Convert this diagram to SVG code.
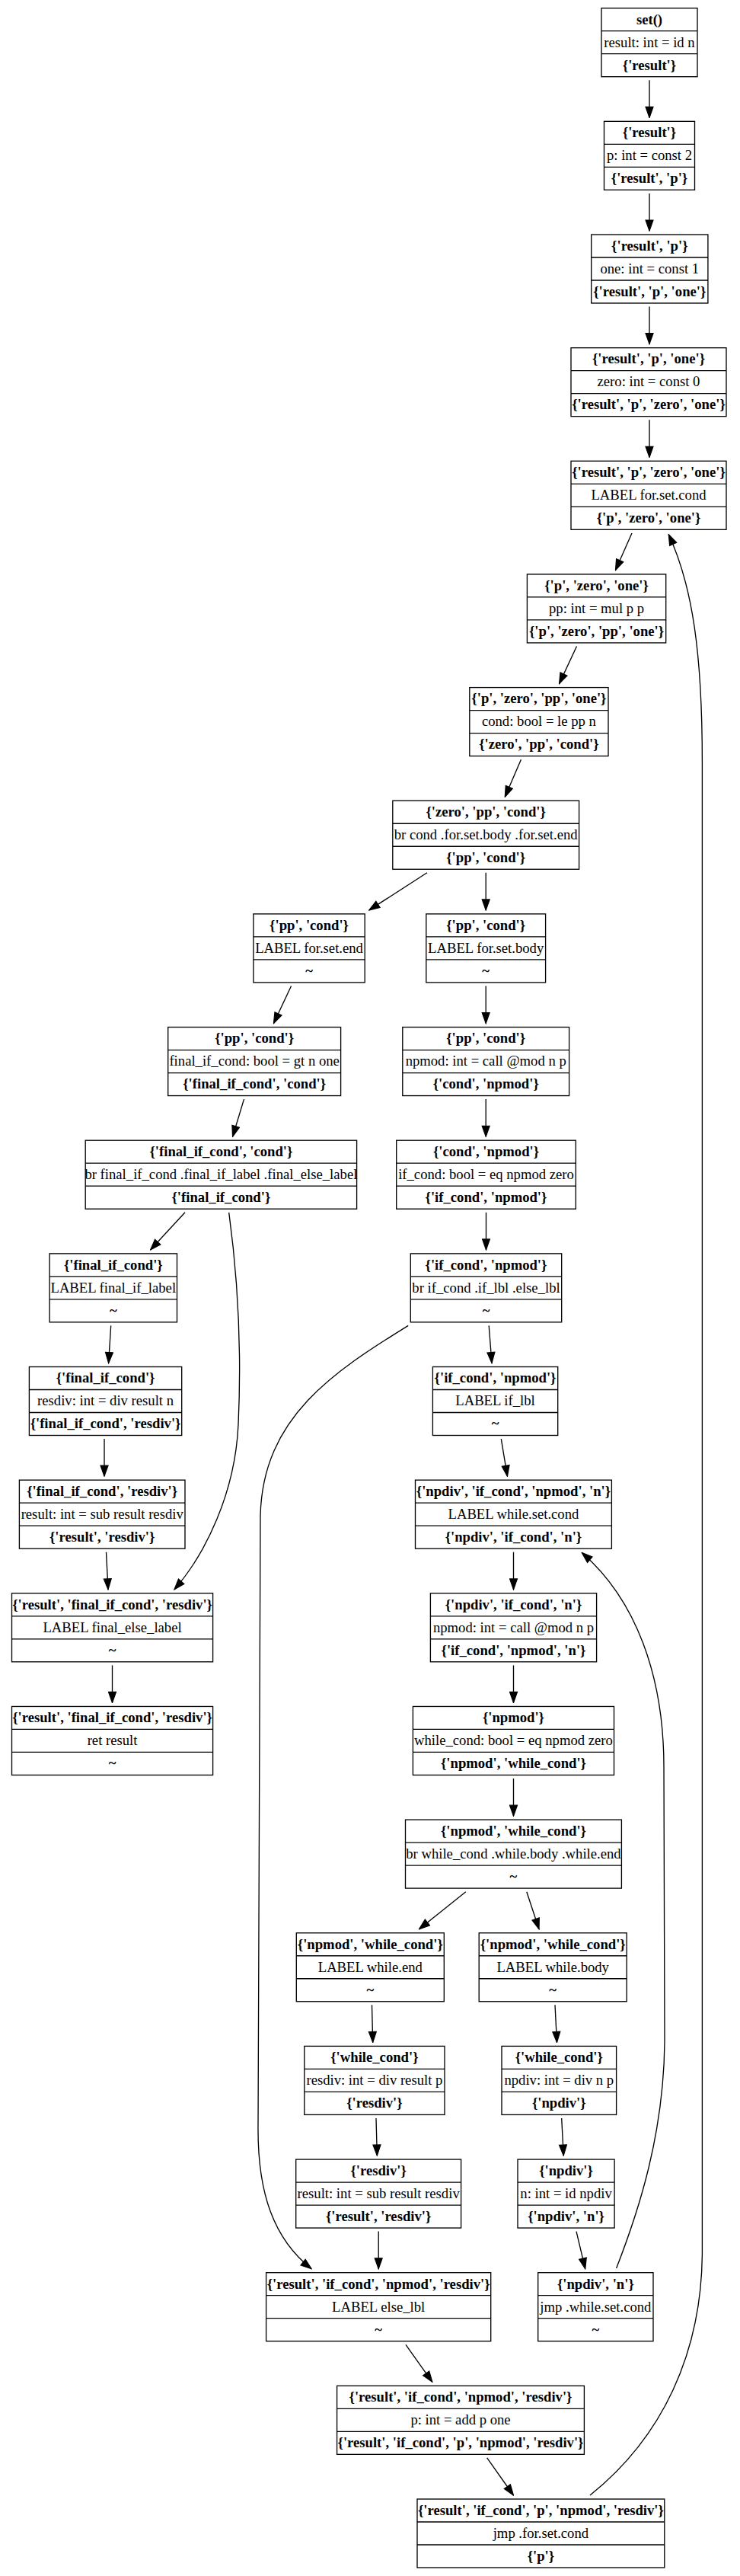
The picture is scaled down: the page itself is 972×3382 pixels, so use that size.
<svg xmlns="http://www.w3.org/2000/svg" width="972" height="3382" viewBox="0 0 972 3382">
<defs>
<marker id="ah" markerUnits="userSpaceOnUse" markerWidth="16" markerHeight="12" viewBox="-1 -1 15.3 11.4" refX="13.3" refY="4.7" orient="auto">
<path d="M0,0 L13.3,4.7 L0,9.4 Z" fill="#000" stroke="#000" stroke-width="1.2"/>
</marker>
</defs>
<style>
.box{fill:#fff;stroke:#000;stroke-width:1.33}
.sep{stroke:#000;stroke-width:1.33}
text{font-family:"Liberation Serif","Times New Roman",serif;font-size:18.67px;text-anchor:middle;fill:#000}
.b{font-weight:bold}
.e{fill:none;stroke:#000;stroke-width:1.33;marker-end:url(#ah)}
</style>
<rect x="0" y="0" width="972" height="3382" fill="#fff"/>
<g id="nodes">
<g id="n1"><rect class="box" x="790" y="10.7" width="126" height="90"/><line class="sep" x1="790" y1="40.7" x2="916" y2="40.7"/><line class="sep" x1="790" y1="70.7" x2="916" y2="70.7"/><text class="b" x="853" y="31.5">set()</text><text x="853" y="61.5">result: int = id n</text><text class="b" x="853" y="91.5">{'result'}</text></g>
<g id="n2"><rect class="box" x="793.5" y="159.35" width="119" height="90"/><line class="sep" x1="793.5" y1="189.35" x2="912.5" y2="189.35"/><line class="sep" x1="793.5" y1="219.35" x2="912.5" y2="219.35"/><text class="b" x="853" y="180.15">{'result'}</text><text x="853" y="210.15">p: int = const 2</text><text class="b" x="853" y="240.15">{'result', 'p'}</text></g>
<g id="n3"><rect class="box" x="776.7" y="308" width="153.2" height="90"/><line class="sep" x1="776.7" y1="338" x2="929.9" y2="338"/><line class="sep" x1="776.7" y1="368" x2="929.9" y2="368"/><text class="b" x="853.3" y="328.8">{'result', 'p'}</text><text x="853.3" y="358.8">one: int = const 1</text><text class="b" x="853.3" y="388.8">{'result', 'p', 'one'}</text></g>
<g id="n4"><rect class="box" x="750" y="456.65" width="204" height="90"/><line class="sep" x1="750" y1="486.65" x2="954" y2="486.65"/><line class="sep" x1="750" y1="516.65" x2="954" y2="516.65"/><text class="b" x="852" y="477.45">{'result', 'p', 'one'}</text><text x="852" y="507.45">zero: int = const 0</text><text class="b" x="852" y="537.45">{'result', 'p', 'zero', 'one'}</text></g>
<g id="n5"><rect class="box" x="750" y="605.3" width="204" height="90"/><line class="sep" x1="750" y1="635.3" x2="954" y2="635.3"/><line class="sep" x1="750" y1="665.3" x2="954" y2="665.3"/><text class="b" x="852" y="626.1">{'result', 'p', 'zero', 'one'}</text><text x="852" y="656.1">LABEL for.set.cond</text><text class="b" x="852" y="686.1">{'p', 'zero', 'one'}</text></g>
<g id="n6"><rect class="box" x="692.4" y="753.95" width="182.3" height="90"/><line class="sep" x1="692.4" y1="783.95" x2="874.7" y2="783.95"/><line class="sep" x1="692.4" y1="813.95" x2="874.7" y2="813.95"/><text class="b" x="783.55" y="774.75">{'p', 'zero', 'one'}</text><text x="783.55" y="804.75">pp: int = mul p p</text><text class="b" x="783.55" y="834.75">{'p', 'zero', 'pp', 'one'}</text></g>
<g id="n7"><rect class="box" x="616.8" y="902.6" width="182.2" height="90"/><line class="sep" x1="616.8" y1="932.6" x2="799" y2="932.6"/><line class="sep" x1="616.8" y1="962.6" x2="799" y2="962.6"/><text class="b" x="707.9" y="923.4">{'p', 'zero', 'pp', 'one'}</text><text x="707.9" y="953.4">cond: bool = le pp n</text><text class="b" x="707.9" y="983.4">{'zero', 'pp', 'cond'}</text></g>
<g id="n8"><rect class="box" x="515.8" y="1051.25" width="244.8" height="90"/><line class="sep" x1="515.8" y1="1081.25" x2="760.6" y2="1081.25"/><line class="sep" x1="515.8" y1="1111.25" x2="760.6" y2="1111.25"/><text class="b" x="638.2" y="1072.05">{'zero', 'pp', 'cond'}</text><text x="638.2" y="1102.05">br cond .for.set.body .for.set.end</text><text class="b" x="638.2" y="1132.05">{'pp', 'cond'}</text></g>
<g id="n9"><rect class="box" x="332.9" y="1199.9" width="146.3" height="90"/><line class="sep" x1="332.9" y1="1229.9" x2="479.2" y2="1229.9"/><line class="sep" x1="332.9" y1="1259.9" x2="479.2" y2="1259.9"/><text class="b" x="406.05" y="1220.7">{'pp', 'cond'}</text><text x="406.05" y="1250.7">LABEL for.set.end</text><text class="b" x="406.05" y="1280.7">~</text></g>
<g id="n10"><rect class="box" x="559.8" y="1199.9" width="156.8" height="90"/><line class="sep" x1="559.8" y1="1229.9" x2="716.6" y2="1229.9"/><line class="sep" x1="559.8" y1="1259.9" x2="716.6" y2="1259.9"/><text class="b" x="638.2" y="1220.7">{'pp', 'cond'}</text><text x="638.2" y="1250.7">LABEL for.set.body</text><text class="b" x="638.2" y="1280.7">~</text></g>
<g id="n11"><rect class="box" x="220.7" y="1348.55" width="226.9" height="90"/><line class="sep" x1="220.7" y1="1378.55" x2="447.6" y2="1378.55"/><line class="sep" x1="220.7" y1="1408.55" x2="447.6" y2="1408.55"/><text class="b" x="334.15" y="1369.35">{'pp', 'cond'}</text><text x="334.15" y="1399.35">final_if_cond: bool = gt n one</text><text class="b" x="334.15" y="1429.35">{'final_if_cond', 'cond'}</text></g>
<g id="n12"><rect class="box" x="528.8" y="1348.55" width="218.8" height="90"/><line class="sep" x1="528.8" y1="1378.55" x2="747.6" y2="1378.55"/><line class="sep" x1="528.8" y1="1408.55" x2="747.6" y2="1408.55"/><text class="b" x="638.2" y="1369.35">{'pp', 'cond'}</text><text x="638.2" y="1399.35">npmod: int = call @mod n p</text><text class="b" x="638.2" y="1429.35">{'cond', 'npmod'}</text></g>
<g id="n13"><rect class="box" x="112.2" y="1497.2" width="356.4" height="90"/><line class="sep" x1="112.2" y1="1527.2" x2="468.6" y2="1527.2"/><line class="sep" x1="112.2" y1="1557.2" x2="468.6" y2="1557.2"/><text class="b" x="290.4" y="1518">{'final_if_cond', 'cond'}</text><text x="290.4" y="1548">br final_if_cond .final_if_label .final_else_label</text><text class="b" x="290.4" y="1578">{'final_if_cond'}</text></g>
<g id="n14"><rect class="box" x="520.7" y="1497.2" width="235.6" height="90"/><line class="sep" x1="520.7" y1="1527.2" x2="756.3" y2="1527.2"/><line class="sep" x1="520.7" y1="1557.2" x2="756.3" y2="1557.2"/><text class="b" x="638.5" y="1518">{'cond', 'npmod'}</text><text x="638.5" y="1548">if_cond: bool = eq npmod zero</text><text class="b" x="638.5" y="1578">{'if_cond', 'npmod'}</text></g>
<g id="n15"><rect class="box" x="65.1" y="1645.85" width="167.4" height="90"/><line class="sep" x1="65.1" y1="1675.85" x2="232.5" y2="1675.85"/><line class="sep" x1="65.1" y1="1705.85" x2="232.5" y2="1705.85"/><text class="b" x="148.8" y="1666.65">{'final_if_cond'}</text><text x="148.8" y="1696.65">LABEL final_if_label</text><text class="b" x="148.8" y="1726.65">~</text></g>
<g id="n16"><rect class="box" x="539.3" y="1645.85" width="198.4" height="90"/><line class="sep" x1="539.3" y1="1675.85" x2="737.7" y2="1675.85"/><line class="sep" x1="539.3" y1="1705.85" x2="737.7" y2="1705.85"/><text class="b" x="638.5" y="1666.65">{'if_cond', 'npmod'}</text><text x="638.5" y="1696.65">br if_cond .if_lbl .else_lbl</text><text class="b" x="638.5" y="1726.65">~</text></g>
<g id="n17"><rect class="box" x="38.4" y="1794.5" width="200.3" height="90"/><line class="sep" x1="38.4" y1="1824.5" x2="238.7" y2="1824.5"/><line class="sep" x1="38.4" y1="1854.5" x2="238.7" y2="1854.5"/><text class="b" x="138.55" y="1815.3">{'final_if_cond'}</text><text x="138.55" y="1845.3">resdiv: int = div result n</text><text class="b" x="138.55" y="1875.3">{'final_if_cond', 'resdiv'}</text></g>
<g id="n18"><rect class="box" x="568.4" y="1794.5" width="164.3" height="90"/><line class="sep" x1="568.4" y1="1824.5" x2="732.7" y2="1824.5"/><line class="sep" x1="568.4" y1="1854.5" x2="732.7" y2="1854.5"/><text class="b" x="650.55" y="1815.3">{'if_cond', 'npmod'}</text><text x="650.55" y="1845.3">LABEL if_lbl</text><text class="b" x="650.55" y="1875.3">~</text></g>
<g id="n19"><rect class="box" x="25.4" y="1943.15" width="217.6" height="90"/><line class="sep" x1="25.4" y1="1973.15" x2="243" y2="1973.15"/><line class="sep" x1="25.4" y1="2003.15" x2="243" y2="2003.15"/><text class="b" x="134.2" y="1963.95">{'final_if_cond', 'resdiv'}</text><text x="134.2" y="1993.95">result: int = sub result resdiv</text><text class="b" x="134.2" y="2023.95">{'result', 'resdiv'}</text></g>
<g id="n20"><rect class="box" x="545.5" y="1943.15" width="257.9" height="90"/><line class="sep" x1="545.5" y1="1973.15" x2="803.4" y2="1973.15"/><line class="sep" x1="545.5" y1="2003.15" x2="803.4" y2="2003.15"/><text class="b" x="674.45" y="1963.95">{'npdiv', 'if_cond', 'npmod', 'n'}</text><text x="674.45" y="1993.95">LABEL while.set.cond</text><text class="b" x="674.45" y="2023.95">{'npdiv', 'if_cond', 'n'}</text></g>
<g id="n21"><rect class="box" x="15.5" y="2091.8" width="264.1" height="90"/><line class="sep" x1="15.5" y1="2121.8" x2="279.6" y2="2121.8"/><line class="sep" x1="15.5" y1="2151.8" x2="279.6" y2="2151.8"/><text class="b" x="147.55" y="2112.6">{'result', 'final_if_cond', 'resdiv'}</text><text x="147.55" y="2142.6">LABEL final_else_label</text><text class="b" x="147.55" y="2172.6">~</text></g>
<g id="n22"><rect class="box" x="565.4" y="2091.8" width="218.2" height="90"/><line class="sep" x1="565.4" y1="2121.8" x2="783.6" y2="2121.8"/><line class="sep" x1="565.4" y1="2151.8" x2="783.6" y2="2151.8"/><text class="b" x="674.5" y="2112.6">{'npdiv', 'if_cond', 'n'}</text><text x="674.5" y="2142.6">npmod: int = call @mod n p</text><text class="b" x="674.5" y="2172.6">{'if_cond', 'npmod', 'n'}</text></g>
<g id="n23"><rect class="box" x="15.5" y="2240.45" width="264.1" height="90"/><line class="sep" x1="15.5" y1="2270.45" x2="279.6" y2="2270.45"/><line class="sep" x1="15.5" y1="2300.45" x2="279.6" y2="2300.45"/><text class="b" x="147.55" y="2261.25">{'result', 'final_if_cond', 'resdiv'}</text><text x="147.55" y="2291.25">ret result</text><text class="b" x="147.55" y="2321.25">~</text></g>
<g id="n24"><rect class="box" x="542.4" y="2240.45" width="264.1" height="90"/><line class="sep" x1="542.4" y1="2270.45" x2="806.5" y2="2270.45"/><line class="sep" x1="542.4" y1="2300.45" x2="806.5" y2="2300.45"/><text class="b" x="674.45" y="2261.25">{'npmod'}</text><text x="674.45" y="2291.25">while_cond: bool = eq npmod zero</text><text class="b" x="674.45" y="2321.25">{'npmod', 'while_cond'}</text></g>
<g id="n25"><rect class="box" x="532.5" y="2389.1" width="283.9" height="90"/><line class="sep" x1="532.5" y1="2419.1" x2="816.4" y2="2419.1"/><line class="sep" x1="532.5" y1="2449.1" x2="816.4" y2="2449.1"/><text class="b" x="674.45" y="2409.9">{'npmod', 'while_cond'}</text><text x="674.45" y="2439.9">br while_cond .while.body .while.end</text><text class="b" x="674.45" y="2469.9">~</text></g>
<g id="n26"><rect class="box" x="389.3" y="2537.75" width="194" height="90"/><line class="sep" x1="389.3" y1="2567.75" x2="583.3" y2="2567.75"/><line class="sep" x1="389.3" y1="2597.75" x2="583.3" y2="2597.75"/><text class="b" x="486.3" y="2558.55">{'npmod', 'while_cond'}</text><text x="486.3" y="2588.55">LABEL while.end</text><text class="b" x="486.3" y="2618.55">~</text></g>
<g id="n27"><rect class="box" x="629.2" y="2537.75" width="194" height="90"/><line class="sep" x1="629.2" y1="2567.75" x2="823.2" y2="2567.75"/><line class="sep" x1="629.2" y1="2597.75" x2="823.2" y2="2597.75"/><text class="b" x="726.2" y="2558.55">{'npmod', 'while_cond'}</text><text x="726.2" y="2588.55">LABEL while.body</text><text class="b" x="726.2" y="2618.55">~</text></g>
<g id="n28"><rect class="box" x="399.8" y="2686.4" width="184.2" height="90"/><line class="sep" x1="399.8" y1="2716.4" x2="584" y2="2716.4"/><line class="sep" x1="399.8" y1="2746.4" x2="584" y2="2746.4"/><text class="b" x="491.9" y="2707.2">{'while_cond'}</text><text x="491.9" y="2737.2">resdiv: int = div result p</text><text class="b" x="491.9" y="2767.2">{'resdiv'}</text></g>
<g id="n29"><rect class="box" x="659" y="2686.4" width="150.6" height="90"/><line class="sep" x1="659" y1="2716.4" x2="809.6" y2="2716.4"/><line class="sep" x1="659" y1="2746.4" x2="809.6" y2="2746.4"/><text class="b" x="734.3" y="2707.2">{'while_cond'}</text><text x="734.3" y="2737.2">npdiv: int = div n p</text><text class="b" x="734.3" y="2767.2">{'npdiv'}</text></g>
<g id="n30"><rect class="box" x="388.7" y="2835.05" width="216.9" height="90"/><line class="sep" x1="388.7" y1="2865.05" x2="605.6" y2="2865.05"/><line class="sep" x1="388.7" y1="2895.05" x2="605.6" y2="2895.05"/><text class="b" x="497.15" y="2855.85">{'resdiv'}</text><text x="497.15" y="2885.85">result: int = sub result resdiv</text><text class="b" x="497.15" y="2915.85">{'result', 'resdiv'}</text></g>
<g id="n31"><rect class="box" x="680" y="2835.05" width="127.1" height="90"/><line class="sep" x1="680" y1="2865.05" x2="807.1" y2="2865.05"/><line class="sep" x1="680" y1="2895.05" x2="807.1" y2="2895.05"/><text class="b" x="743.55" y="2855.85">{'npdiv'}</text><text x="743.55" y="2885.85">n: int = id npdiv</text><text class="b" x="743.55" y="2915.85">{'npdiv', 'n'}</text></g>
<g id="n32"><rect class="box" x="349.6" y="2983.7" width="295.1" height="90"/><line class="sep" x1="349.6" y1="3013.7" x2="644.7" y2="3013.7"/><line class="sep" x1="349.6" y1="3043.7" x2="644.7" y2="3043.7"/><text class="b" x="497.15" y="3004.5">{'result', 'if_cond', 'npmod', 'resdiv'}</text><text x="497.15" y="3034.5">LABEL else_lbl</text><text class="b" x="497.15" y="3064.5">~</text></g>
<g id="n33"><rect class="box" x="706.7" y="2983.7" width="151.3" height="90"/><line class="sep" x1="706.7" y1="3013.7" x2="858" y2="3013.7"/><line class="sep" x1="706.7" y1="3043.7" x2="858" y2="3043.7"/><text class="b" x="782.35" y="3004.5">{'npdiv', 'n'}</text><text x="782.35" y="3034.5">jmp .while.set.cond</text><text class="b" x="782.35" y="3064.5">~</text></g>
<g id="n34"><rect class="box" x="442.6" y="3132.35" width="324.8" height="90"/><line class="sep" x1="442.6" y1="3162.35" x2="767.4" y2="3162.35"/><line class="sep" x1="442.6" y1="3192.35" x2="767.4" y2="3192.35"/><text class="b" x="605" y="3153.15">{'result', 'if_cond', 'npmod', 'resdiv'}</text><text x="605" y="3183.15">p: int = add p one</text><text class="b" x="605" y="3213.15">{'result', 'if_cond', 'p', 'npmod', 'resdiv'}</text></g>
<g id="n35"><rect class="box" x="548" y="3281" width="324.8" height="90"/><line class="sep" x1="548" y1="3311" x2="872.8" y2="3311"/><line class="sep" x1="548" y1="3341" x2="872.8" y2="3341"/><text class="b" x="710.4" y="3301.8">{'result', 'if_cond', 'p', 'npmod', 'resdiv'}</text><text x="710.4" y="3331.8">jmp .for.set.cond</text><text class="b" x="710.4" y="3361.8">{'p'}</text></g>
</g>
<g id="edges">
<path class="e" d="M853,105.3 L853,154.4"/>
<path class="e" d="M853,254 L853,303"/>
<path class="e" d="M853,402.6 L853,451.6"/>
<path class="e" d="M853,551.3 L853,600.3"/>
<path class="e" d="M830,699.9 L808.5,748.5"/>
<path class="e" d="M757.5,848.5 L734.6,897.6"/>
<path class="e" d="M684.4,997.2 L663.3,1046.2"/>
<path class="e" d="M561,1145.8 L484.8,1194.9"/>
<path class="e" d="M638.2,1145.8 L638.2,1194.9"/>
<path class="e" d="M382.5,1294.5 L359.5,1343.5"/>
<path class="e" d="M638.2,1294.5 L638.2,1343.5"/>
<path class="e" d="M320.5,1443.1 L305.6,1492.2"/>
<path class="e" d="M638.2,1443.1 L638.2,1492.2"/>
<path class="e" d="M243,1591.8 L197.7,1640.8"/>
<path class="e" d="M300.7,1591.8 C310,1660 318,1760 313,1870 C309,1960 270,2040 229,2086.8"/>
<path class="e" d="M638.5,1591.8 L638.5,1640.8"/>
<path class="e" d="M145.7,1740.4 L142.6,1789.5"/>
<path class="e" d="M642.2,1740.4 L646,1789.5"/>
<path class="e" d="M536.2,1740.4 C440,1800 345,1860 342,1990 L339,2790 C338,2880 360,2940 409,2978.7"/>
<path class="e" d="M137,1889.1 L137,1938.1"/>
<path class="e" d="M658.3,1889.1 L666.4,1938.1"/>
<path class="e" d="M139.5,2037.7 L142,2086.8"/>
<path class="e" d="M674.5,2037.7 L674.5,2086.8"/>
<path class="e" d="M147.5,2186.4 L147.5,2235.4"/>
<path class="e" d="M674.5,2186.4 L674.5,2235.4"/>
<path class="e" d="M674.5,2335 L674.5,2384.1"/>
<path class="e" d="M611.8,2483.7 L550.5,2532.7"/>
<path class="e" d="M691.8,2483.7 L708,2532.7"/>
<path class="e" d="M488.5,2632.3 L489.7,2681.4"/>
<path class="e" d="M729,2632.3 L731.5,2681.4"/>
<path class="e" d="M494,2781 L495.3,2830"/>
<path class="e" d="M737.7,2781 L740.2,2830"/>
<path class="e" d="M497.2,2929.6 L497.2,2978.7"/>
<path class="e" d="M757,2929.6 L768.7,2978.7"/>
<path class="e" d="M533,3078.3 L567.8,3127.3"/>
<path class="e" d="M639.7,3226.9 L674.4,3276"/>
<path class="e" d="M809.6,2978 C840,2900 872,2800 873,2680 L872,2320 C872,2200 835,2100 764.3,2038.5"/>
<path class="e" d="M775,3276 C870,3200 921,3090 922.4,2960 L922.4,1000 C922.4,860 910,770 878.3,701.7"/>
</g>
</svg>
